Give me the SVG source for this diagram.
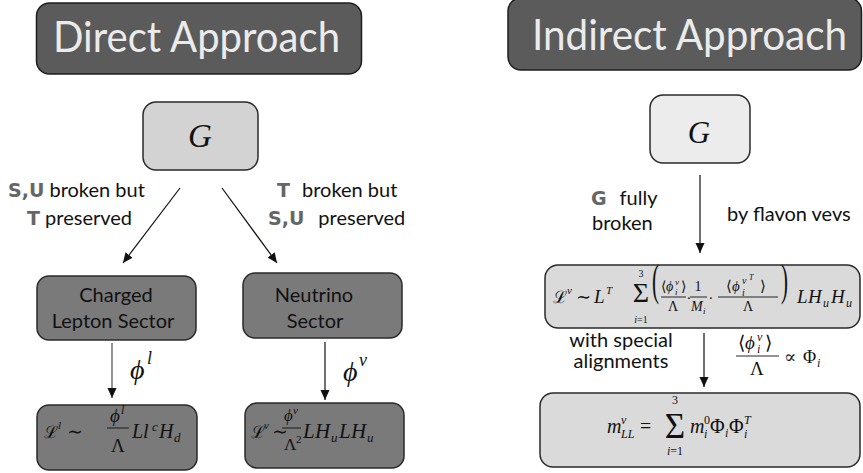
<svg xmlns="http://www.w3.org/2000/svg" width="863" height="473" viewBox="0 0 863 473">
  <defs>
    <marker id="arrow" viewBox="0 0 10 10" refX="10" refY="5" markerWidth="10" markerHeight="10" markerUnits="userSpaceOnUse" orient="auto">
      <path d="M0,0.5 L10,5 L0,9.5 Z" fill="#111"/>
    </marker>
  </defs>
  <style>
    .title-box { fill: #5b5b5b; stroke: #1e1e1e; stroke-width: 1.5; }
    .title { font-family: Lato, "Open Sans", sans-serif; font-size: 42px; fill: #ebebeb; }
    .g-box-l { fill: #d3d3d3; stroke: #2a2a2a; stroke-width: 1.5; }
    .g-box-r { fill: #ececec; stroke: #2a2a2a; stroke-width: 1.5; }
    .dark-box { fill: #7a7a7a; stroke: #2a2a2a; stroke-width: 1.5; }
    .light-box { fill: #dadada; stroke: #2a2a2a; stroke-width: 1.5; }
    .label { font-family: Lato, "Open Sans", sans-serif; font-size: 20px; fill: #111; }
    .sym { font-family: "DejaVu Sans", sans-serif; font-size: 19px; font-weight: bold; fill: #666; }
    .box-text { font-family: Lato, "Open Sans", sans-serif; font-size: 20px; fill: #111; }
    .math { font-family: "Liberation Serif", "DejaVu Serif", serif; font-style: italic; fill: #111; }
    .rm { font-family: "Liberation Serif", "DejaVu Serif", serif; font-style: normal; fill: #111; }
    .cal { font-family: "DejaVu Serif", serif; font-style: normal; fill: #111; }
    .conn { stroke: #111; stroke-width: 1.2; fill: none; }
    .conn-gray { stroke: #666; stroke-width: 1.4; fill: none; }
    .bar { stroke: #111; stroke-width: 0.9; }
  </style>

  <!-- Left panel heading -->
  <g id="direct-title">
    <rect class="title-box" x="36.5" y="3" width="325" height="71" rx="13"/>
    <text class="title" x="53" y="52" textLength="287" lengthAdjust="spacingAndGlyphs">Direct Approach</text>
  </g>

  <!-- Right panel heading -->
  <g id="indirect-title">
    <rect class="title-box" x="508" y="-2" width="353.5" height="72" rx="13"/>
    <text class="title" x="532" y="50" textLength="315" lengthAdjust="spacingAndGlyphs">Indirect Approach</text>
  </g>

  <!-- Flavour group, left -->
  <g id="g-left">
    <rect class="g-box-l" x="143" y="102" width="115" height="68" rx="13"/>
    <text class="math" x="200" y="147" font-size="33" text-anchor="middle">G</text>
  </g>

  <!-- Charged lepton sector -->
  <g id="charged-lepton">
    <rect class="dark-box" x="37" y="276" width="159" height="64" rx="12"/>
    <text class="box-text" x="116" y="302" text-anchor="middle">Charged</text>
    <text class="box-text" x="113" y="328" text-anchor="middle">Lepton Sector</text>
  </g>

  <!-- Neutrino sector -->
  <g id="neutrino">
    <rect class="dark-box" x="243" y="273" width="159" height="65" rx="12"/>
    <text class="box-text" x="314" y="302" text-anchor="middle">Neutrino</text>
    <text class="box-text" x="315" y="328" text-anchor="middle">Sector</text>
  </g>

  <!-- Charged lepton Lagrangian -->
  <g id="lag-charged">
    <rect class="dark-box" x="37" y="405" width="160" height="65" rx="12"/>
    <text class="cal" x="44" y="438" font-size="17">ℒ</text>
    <text class="math" x="58" y="429" font-size="11">l</text>
    <text class="rm" x="67" y="438" font-size="19">∼</text>
    <text class="math" x="110" y="422" font-size="19">ϕ</text>
    <text class="math" x="121" y="414" font-size="12">l</text>
    <line class="bar" x1="107" y1="428" x2="129" y2="428"/>
    <text class="rm" x="118" y="452" font-size="19" text-anchor="middle">Λ</text>
    <text class="math" x="132" y="438" font-size="20">Ll</text>
    <text class="math" x="152" y="431" font-size="13">c</text>
    <text class="math" x="159" y="438" font-size="20">H</text>
    <text class="math" x="174" y="442" font-size="13">d</text>
  </g>

  <!-- Neutrino Lagrangian -->
  <g id="lag-neutrino">
    <rect class="dark-box" x="245" y="403" width="159" height="65" rx="12"/>
    <text class="cal" x="251" y="438" font-size="17">ℒ</text>
    <text class="math" x="264" y="429" font-size="11">ν</text>
    <text class="rm" x="272" y="438" font-size="19">∼</text>
    <text class="math" x="284" y="421" font-size="17">ϕ</text>
    <text class="math" x="293" y="414" font-size="11">ν</text>
    <line class="bar" x1="282" y1="428" x2="301" y2="428"/>
    <text class="rm" x="284" y="450" font-size="17">Λ</text>
    <text class="rm" x="296" y="443" font-size="11">2</text>
    <text class="math" x="303" y="438" font-size="21">L</text>
    <text class="math" x="315" y="438" font-size="21">H</text>
    <text class="math" x="331" y="442" font-size="13">u</text>
    <text class="math" x="339" y="438" font-size="21">L</text>
    <text class="math" x="351" y="438" font-size="21">H</text>
    <text class="math" x="367" y="442" font-size="13">u</text>
  </g>

  <!-- Flavour group, right -->
  <g id="g-right">
    <rect class="g-box-r" x="650" y="95" width="100" height="68" rx="13"/>
    <text class="math" x="699" y="143" font-size="31" text-anchor="middle">G</text>
  </g>

  <!-- Seesaw Lagrangian -->
  <g id="lag-seesaw">
    <rect class="light-box" x="545" y="265" width="315" height="63" rx="13"/>
    <text class="cal" x="553" y="303" font-size="17">ℒ</text>
    <text class="math" x="567" y="294" font-size="11">ν</text>
    <text class="rm" x="576" y="303" font-size="18">∼</text>
    <text class="math" x="594" y="303" font-size="19">L</text>
    <text class="math" x="606" y="294" font-size="11">T</text>
    <text class="rm" x="641" y="302" font-size="28" text-anchor="middle">Σ</text>
    <text class="rm" x="641" y="277" font-size="10" text-anchor="middle">3</text>
    <text class="math" x="641" y="323" font-size="10" text-anchor="middle">i<tspan class="rm">=1</tspan></text>
    <text class="rm" x="652" y="303" font-size="21" transform="translate(0,-341) scale(1,2.1)">(</text>
    <text class="rm" x="661" y="291" font-size="14">⟨</text>
    <text class="math" x="666" y="291" font-size="14">ϕ</text>
    <text class="math" x="675" y="285" font-size="9">ν</text>
    <text class="math" x="675" y="295" font-size="9">i</text>
    <text class="rm" x="681" y="291" font-size="14">⟩</text>
    <line class="bar" x1="661" y1="297" x2="686" y2="297"/>
    <text class="rm" x="673" y="311" font-size="14" text-anchor="middle">Λ</text>
    <text class="rm" x="687" y="299" font-size="15">.</text>
    <text class="rm" x="698" y="291" font-size="14" text-anchor="middle">1</text>
    <line class="bar" x1="690" y1="297" x2="707" y2="297"/>
    <text class="math" x="691" y="311" font-size="14">M</text>
    <text class="math" x="703" y="314" font-size="9">i</text>
    <text class="rm" x="709" y="299" font-size="15">.</text>
    <text class="rm" x="726" y="291" font-size="15">⟨</text>
    <text class="math" x="732" y="291" font-size="15">ϕ</text>
    <text class="math" x="742" y="284" font-size="10">ν</text>
    <text class="math" x="749" y="280" font-size="8">T</text>
    <text class="math" x="742" y="296" font-size="10">i</text>
    <text class="rm" x="760" y="291" font-size="15">⟩</text>
    <line class="bar" x1="718" y1="297" x2="778" y2="297"/>
    <text class="rm" x="748" y="311" font-size="14" text-anchor="middle">Λ</text>
    <text class="rm" x="781" y="303" font-size="21" transform="translate(0,-341) scale(1,2.1)">)</text>
    <text class="math" x="797" y="303" font-size="19">L</text>
    <text class="math" x="808" y="303" font-size="19">H</text>
    <text class="math" x="823" y="307" font-size="12">u</text>
    <text class="math" x="831" y="303" font-size="19">H</text>
    <text class="math" x="846" y="307" font-size="12">u</text>
  </g>

  <!-- Neutrino mass matrix -->
  <g id="mass-matrix">
    <rect class="light-box" x="540" y="393" width="320" height="74" rx="13"/>
    <text class="math" x="607" y="433" font-size="20">m</text>
    <text class="math" x="621" y="424" font-size="12">ν</text>
    <text class="math" x="621" y="438" font-size="12">LL</text>
    <text class="rm" x="640" y="433" font-size="20">=</text>
    <text class="rm" x="675" y="438" font-size="35" text-anchor="middle">Σ</text>
    <text class="rm" x="675" y="404" font-size="12" text-anchor="middle">3</text>
    <text class="math" x="675" y="455" font-size="12" text-anchor="middle">i<tspan class="rm">=1</tspan></text>
    <text class="math" x="690" y="433" font-size="20">m</text>
    <text class="rm" x="704" y="424" font-size="12">0</text>
    <text class="math" x="704" y="438" font-size="12">i</text>
    <text class="rm" x="710" y="433" font-size="20">Φ</text>
    <text class="math" x="725" y="437" font-size="12">i</text>
    <text class="rm" x="729" y="433" font-size="20">Φ</text>
    <text class="math" x="744" y="424" font-size="12">T</text>
    <text class="math" x="744" y="438" font-size="12">i</text>
  </g>

  <!-- Connectors and their labels -->
  <g id="connectors">
    <line class="conn" x1="180" y1="188" x2="123" y2="263" marker-end="url(#arrow)"/>
    <line class="conn" x1="222" y1="188" x2="277" y2="263" marker-end="url(#arrow)"/>
    <line class="conn-gray" x1="112" y1="343" x2="112" y2="398" marker-end="url(#arrow)"/>
    <line class="conn" x1="325" y1="342" x2="325" y2="400" marker-end="url(#arrow)"/>
    <line class="conn" x1="700" y1="175" x2="700" y2="253" marker-end="url(#arrow)"/>
    <line class="conn" x1="704" y1="333" x2="704" y2="387" marker-end="url(#arrow)"/>

    <text class="label" x="8" y="197"><tspan class="sym">S,U</tspan> broken but</text>
    <text class="label" x="27" y="225"><tspan class="sym">T</tspan> preserved</text>
    <text class="label" x="277" y="197"><tspan class="sym">T</tspan><tspan dx="12">broken but</tspan></text>
    <text class="label" x="268" y="225"><tspan class="sym">S,U</tspan><tspan dx="14">preserved</tspan></text>

    <text class="math" x="130" y="379" font-size="28">ϕ</text>
    <text class="math" x="147" y="364" font-size="18">l</text>
    <text class="math" x="343" y="381" font-size="28">ϕ</text>
    <text class="math" x="359" y="366" font-size="18">ν</text>

    <text class="label" x="591" y="205"><tspan class="sym">G</tspan><tspan dx="13">fully</tspan></text>
    <text class="label" x="592" y="230">broken</text>
    <text class="label" x="727" y="221">by flavon vevs</text>

    <text class="label" x="621" y="347" text-anchor="middle">with special</text>
    <text class="label" x="621" y="368" text-anchor="middle">alignments</text>

    <text class="rm" x="738" y="349" font-size="19">⟨</text>
    <text class="math" x="745" y="349" font-size="19">ϕ</text>
    <text class="math" x="757" y="341" font-size="12">ν</text>
    <text class="math" x="757" y="353" font-size="12">i</text>
    <text class="rm" x="765" y="349" font-size="19">⟩</text>
    <line class="bar" x1="736" y1="356" x2="779" y2="356"/>
    <text class="rm" x="757" y="375" font-size="19" text-anchor="middle">Λ</text>
    <text class="rm" x="784" y="363" font-size="18">∝</text>
    <text class="rm" x="803" y="363" font-size="18">Φ</text>
    <text class="math" x="817" y="367" font-size="12">i</text>
  </g>
</svg>
